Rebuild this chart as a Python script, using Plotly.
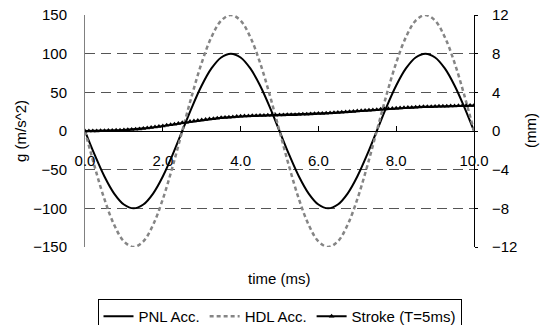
import plotly.graph_objects as go

# ---- data ----
t_acc = [0.0, 0.25, 0.5, 0.75, 1.0, 1.25, 1.5, 1.75, 2.0, 2.25, 2.5, 2.75, 3.0, 3.25, 3.5, 3.75, 4.0,
         4.25, 4.5, 4.75, 5.0, 5.25, 5.5, 5.75, 6.0, 6.25, 6.5, 6.75, 7.0, 7.25, 7.5, 7.75, 8.0, 8.25,
         8.5, 8.75, 9.0, 9.25, 9.5, 9.75, 10.0]
pnl_acc = [0, -30.9, -58.8, -80.9, -95.1, -100, -95.1, -80.9, -58.8, -30.9, 0, 30.9, 58.8, 80.9, 95.1,
           100, 95.1, 80.9, 58.8, 30.9, 0, -30.9, -58.8, -80.9, -95.1, -100, -95.1, -80.9, -58.8, -30.9,
           0, 30.9, 58.8, 80.9, 95.1, 100, 95.1, 80.9, 58.8, 30.9, 0]
hdl_acc = [0, -46.4, -88.2, -121.4, -142.7, -150, -142.7, -121.4, -88.2, -46.4, 0, 46.4, 88.2, 121.4,
           142.7, 150, 142.7, 121.4, 88.2, 46.4, 0, -46.4, -88.2, -121.4, -142.7, -150, -142.7, -121.4,
           -88.2, -46.4, 0, 46.4, 88.2, 121.4, 142.7, 150, 142.7, 121.4, 88.2, 46.4, 0]

t_stroke = [round(i * 0.1, 1) for i in range(101)]
stroke_mm = [0.00, 0.00, 0.01, 0.01, 0.02, 0.03, 0.04, 0.05, 0.07, 0.08, 0.10,
             0.12, 0.15, 0.18, 0.21, 0.25, 0.30, 0.35, 0.41, 0.47, 0.53,
             0.59, 0.65, 0.71, 0.78, 0.85, 0.91, 0.97, 1.03, 1.08, 1.13,
             1.18, 1.23, 1.28, 1.32, 1.36, 1.40, 1.43, 1.46, 1.49, 1.52,
             1.54, 1.56, 1.58, 1.59, 1.60, 1.61, 1.62, 1.63, 1.64, 1.65,
             1.66, 1.67, 1.68, 1.69, 1.70, 1.72, 1.74, 1.76, 1.78, 1.80,
             1.82, 1.84, 1.86, 1.88, 1.91, 1.94, 1.97, 2.00, 2.03, 2.06,
             2.09, 2.12, 2.15, 2.18, 2.21, 2.24, 2.27, 2.30, 2.33, 2.36,
             2.38, 2.40, 2.42, 2.44, 2.46, 2.48, 2.50, 2.51, 2.52, 2.54,
             2.55, 2.56, 2.57, 2.58, 2.59, 2.60, 2.61, 2.62, 2.63, 2.64]

x_ticks = [0.0, 2.0, 4.0, 6.0, 8.0, 10.0]
left_ticks = [-150, -100, -50, 0, 50, 100, 150]
right_ticks = [-12, -8, -4, 0, 4, 8, 12]

FONT = "Liberation Sans, Arial, sans-serif"
W, H = 543, 325
ML, MR, MT, MB = 85, 69, 15, 78
PW, PH = W - ML - MR, H - MT - MB


def px_x(px):
    return (px - ML) / PW


def px_y(py):
    return (H - MB - py) / PH


fig = go.Figure()
fig.add_trace(go.Scatter(x=t_acc, y=pnl_acc, name="PNL Acc.", mode="lines", line_shape="spline",
                         line=dict(color="black", width=2)))
fig.add_trace(go.Scatter(x=t_acc, y=hdl_acc, name="HDL Acc.", mode="lines", line_shape="spline",
                         line=dict(color="#858585", width=2.5, dash="4px,3px")))
fig.add_trace(go.Scatter(x=t_stroke, y=stroke_mm, name="Stroke (T=5ms)", mode="lines+markers",
                         yaxis="y2", line=dict(color="black", width=2),
                         marker=dict(symbol="triangle-up", size=5, color="black")))

fig.update_layout(
    width=W, height=H,
    margin=dict(l=ML, r=MR, t=MT, b=MB, autoexpand=False),
    paper_bgcolor="white", plot_bgcolor="white",
    font=dict(family=FONT, size=15, color="black"),
    xaxis=dict(range=[0, 10], tickvals=x_ticks, tickformat=".1f", showgrid=False, zeroline=False,
               showline=True, linecolor="black", linewidth=1, anchor="free", position=0.5,
               ticks="inside", ticklen=5, tickcolor="black", ticklabelstandoff=16,
               automargin=False),
    yaxis=dict(range=[-150, 150], tickvals=left_ticks, showgrid=True,
               gridcolor="#555555", griddash="10px,6px", gridwidth=1, zeroline=False,
               showline=True, linecolor="#808080", ticks="", ticklabelstandoff=14,
               automargin=False),
    yaxis2=dict(range=[-12, 12], tickvals=right_ticks, overlaying="y",
                side="right", showgrid=False, zeroline=False, showline=True, linecolor="black",
                ticks="outside", ticklen=3, tickcolor="black", ticklabelstandoff=11,
                automargin=False),
    legend=dict(orientation="h", x=px_x(279.5), xanchor="center", y=px_y(299), yanchor="top",
                bordercolor="black", borderwidth=1, font=dict(size=15), itemwidth=30,
                tracegroupgap=0),
    showlegend=True,
    annotations=[
        dict(text="time (ms)", x=0.5, xref="paper", y=px_y(278), yref="paper",
             xanchor="center", yanchor="middle", showarrow=False),
        dict(text="g (m/s^2)", x=px_x(20), xref="paper", y=px_y(131), yref="paper",
             xanchor="center", yanchor="middle", showarrow=False, textangle=-90),
        dict(text="(mm)", x=px_x(530), xref="paper", y=px_y(131), yref="paper",
             xanchor="center", yanchor="middle", showarrow=False, textangle=-90),
    ],
)

fig.write_html("out.html")
